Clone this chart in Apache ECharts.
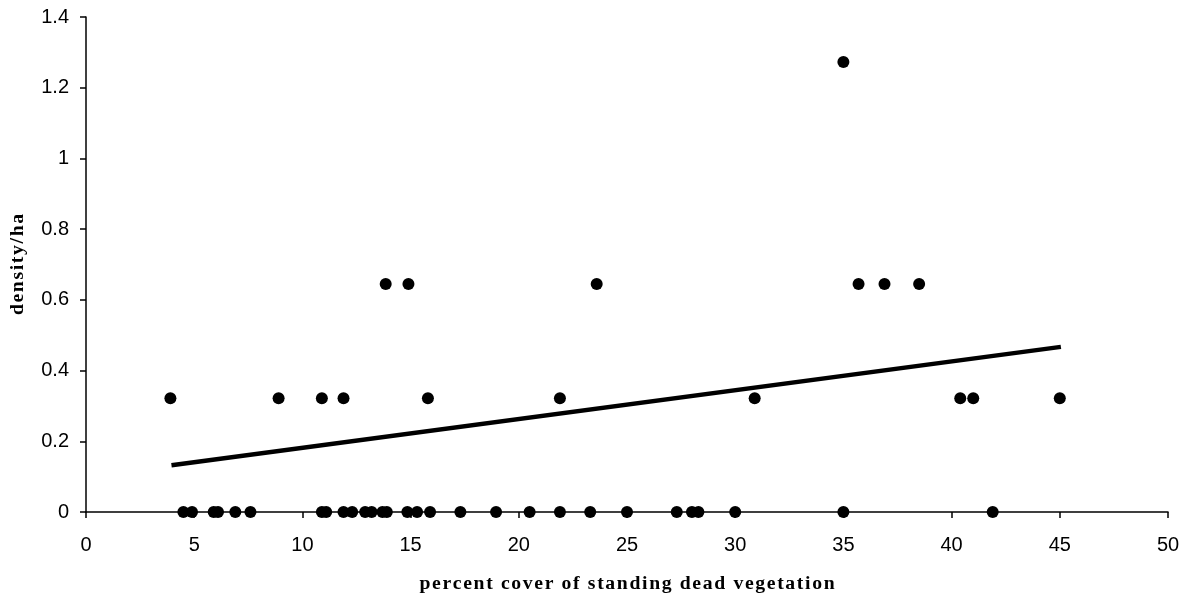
<!DOCTYPE html>
<html>
<head>
<meta charset="utf-8">
<script src="https://cdn.jsdelivr.net/npm/echarts@6/dist/echarts.min.js"></script>
<style>
  html, body { margin: 0; padding: 0; background: #fff; }
  #chart { width: 1191px; height: 603px; }
</style>
</head>
<body>
<div id="chart"></div>
<script>
// observations: percent cover (x) and density/ha (y)
const coverX = [
  3.9, 8.9, 10.9, 11.9, 15.8, 21.9, 30.9, 40.4, 41.0, 45.0,
  13.85, 14.9, 23.6, 35.7, 36.9, 38.5,
  35.0,
  4.5, 4.9, 5.9, 6.1, 6.9, 7.6, 10.9, 11.1, 11.9, 12.3, 12.9, 13.2, 13.7, 13.9,
  14.85, 15.3, 15.9, 17.3, 18.95, 20.5, 21.9, 23.3, 25.0, 27.3, 28.0, 28.3, 30.0,
  35.0, 41.9
];
const densityY = [
  0.322, 0.322, 0.322, 0.322, 0.322, 0.322, 0.322, 0.322, 0.322, 0.322,
  0.645, 0.645, 0.645, 0.645, 0.645, 0.645,
  1.273,
  0, 0, 0, 0, 0, 0, 0, 0, 0, 0, 0, 0, 0, 0,
  0, 0, 0, 0, 0, 0, 0, 0, 0, 0, 0, 0, 0,
  0, 0
];

// linear trend line end points
const trendX = [3.95, 45.05];
const trendY = [0.132, 0.467];

const xTicks = { min: 0, max: 50, interval: 5 };
const yTicks = { min: 0, max: 1.4, interval: 0.2 };

const xTitle = 'percent cover of standing dead vegetation';
const yTitle = 'density/ha';

// spread letters a little, like the original bold serif titles
function spaced(s) {
  return s.split('').join('\u200a');
}

const chart = echarts.init(document.getElementById('chart'));

const axisText = { color: '#000', fontFamily: 'Liberation Sans, Arial', fontSize: 20 };
const titleText = { color: '#000', fontFamily: 'Liberation Serif, Times New Roman', fontWeight: 'bold', fontSize: 19.7 };

chart.setOption({
  backgroundColor: '#fff',
  animation: false,
  grid: { left: 86, right: 23, top: 17, bottom: 91, containLabel: false, outerBoundsMode: 'none' },
  xAxis: {
    type: 'value',
    min: xTicks.min, max: xTicks.max, interval: xTicks.interval,
    name: spaced(xTitle),
    nameLocation: 'middle',
    nameGap: 62,
    nameTextStyle: titleText,
    axisLine: { lineStyle: { color: '#000', width: 1.5 } },
    axisTick: { show: true, inside: false, length: 6, lineStyle: { color: '#000', width: 1.5 } },
    axisLabel: Object.assign({ margin: 23 }, axisText),
    splitLine: { show: false }
  },
  yAxis: {
    type: 'value',
    min: yTicks.min, max: yTicks.max, interval: yTicks.interval,
    name: spaced(yTitle),
    nameLocation: 'middle',
    nameGap: 58,
    nameTextStyle: titleText,
    axisLine: { show: true, lineStyle: { color: '#000', width: 1.5 } },
    axisTick: { show: true, inside: false, length: 6, lineStyle: { color: '#000', width: 1.5 } },
    axisLabel: Object.assign({ margin: 17 }, axisText),
    splitLine: { show: false }
  },
  series: [
    {
      type: 'line',
      data: trendX.map((x, i) => [x, trendY[i]]),
      showSymbol: false,
      lineStyle: { color: '#000', width: 4.5 },
      z: 2
    },
    {
      type: 'scatter',
      data: coverX.map((x, i) => [x, densityY[i]]),
      symbol: 'circle',
      symbolSize: 12,
      itemStyle: { color: '#000', opacity: 1 },
      z: 3
    }
  ]
});
</script>
</body>
</html>
